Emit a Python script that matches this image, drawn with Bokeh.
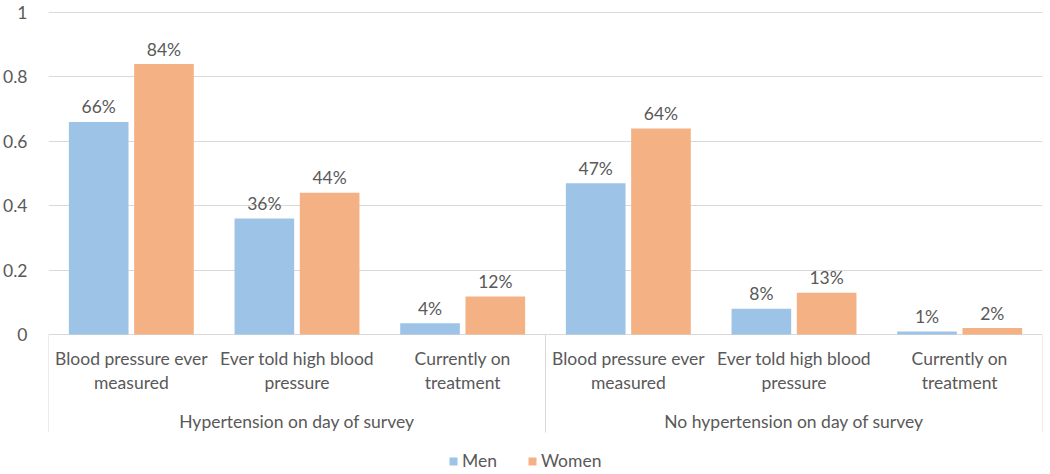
from bokeh.plotting import figure
from bokeh.models import (FactorRange, ColumnDataSource, FixedTicker, CustomJSTickFormatter,
                          Legend, LegendItem, Range1d)
from bokeh.transform import dodge
from bokeh.core.properties import value
from bokeh.embed import file_html
from bokeh.resources import INLINE

# ---- data ----
groups = ["Hypertension on day of survey", "No hypertension on day of survey"]
measures = ["Blood pressure ever\nmeasured", "Ever told high blood\npressure", "Currently on\ntreatment"]
men = [0.66, 0.36, 0.035, 0.47, 0.08, 0.009]
women = [0.84, 0.44, 0.118, 0.64, 0.13, 0.02]
men_labels = ["66%", "36%", "4%", "47%", "8%", "1%"]
women_labels = ["84%", "44%", "12%", "64%", "13%", "2%"]
y_ticks = [0, 0.2, 0.4, 0.6, 0.8, 1]

FONT = "Lato"
FS = "17.5px"
TXT = "#595959"
GRID = "#D9D9D9"
BLUE = "#9DC3E6"
ORANGE = "#F4B183"

W, H = 1050, 474
PX_PER_UNIT = 322
ZERO_Y = 334

factors = [(g, m) for g in groups for m in measures]
line1 = [m.split("\n")[0] for g in groups for m in measures]
line2 = [m.split("\n")[1] for g in groups for m in measures]

src = ColumnDataSource(dict(x=factors, men=men, women=women,
                            men_lab=men_labels, women_lab=women_labels,
                            l1=line1, l2=line2, zero=[0] * len(factors)))

x_range = FactorRange(*factors, group_padding=0, factor_padding=0, range_padding=0)
y_range = Range1d((ZERO_Y - H) / PX_PER_UNIT, ZERO_Y / PX_PER_UNIT)

p = figure(width=W, height=H, x_range=x_range, y_range=y_range,
           output_backend="svg", toolbar_location=None,
           x_axis_location=None, min_border_left=48, min_border_right=8,
           min_border_top=0, min_border_bottom=0)
p.outline_line_color = None
p.background_fill_color = "white"
p.xgrid.grid_line_color = None
p.ygrid.grid_line_color = GRID
p.ygrid.grid_line_width = 1

ax = p.yaxis[0]
ax.ticker = FixedTicker(ticks=y_ticks)
ax.formatter = CustomJSTickFormatter(code="return tick.toString();")
ax.axis_line_color = None
ax.major_tick_line_color = None
ax.minor_tick_line_color = None
ax.major_label_text_font = FONT
ax.major_label_text_font_size = FS
ax.major_label_text_color = TXT
ax.major_label_standoff = 15

bw = 0.36
off = 0.197
r_men = p.vbar(x=dodge("x", -off, range=x_range), top="men", width=bw, source=src,
               fill_color=BLUE, line_color=None)
r_women = p.vbar(x=dodge("x", off, range=x_range), top="women", width=bw, source=src,
                 fill_color=ORANGE, line_color=None)

common = dict(text_font=value(FONT), text_font_size=FS, text_color=TXT, text_align="center")
p.text(x=dodge("x", -off, range=x_range), y="men", text="men_lab", source=src,
       text_baseline="alphabetic", y_offset=-15, **common)
p.text(x=dodge("x", off, range=x_range), y="women", text="women_lab", source=src,
       text_baseline="alphabetic", y_offset=-15, **common)

# category labels
p.text(x="x", y="zero", text="l1", source=src, text_baseline="middle", y_offset=24, **common)
p.text(x="x", y="zero", text="l2", source=src, text_baseline="middle", y_offset=48, **common)

# group labels
gsrc = ColumnDataSource(dict(x=groups, y=[0] * len(groups), t=groups))
p.text(x="x", y="y", text="t", source=gsrc, text_baseline="middle", y_offset=87, **common)

# group separators
n = len(measures)
bounds = [i * n for i in range(len(groups) + 1)]
p.segment(x0=bounds, x1=bounds, y0=[0] * len(bounds), y1=[-98 / PX_PER_UNIT] * len(bounds),
          line_color=GRID, line_width=1)

legend = Legend(items=[LegendItem(label="Men", renderers=[r_men]),
                       LegendItem(label="Women", renderers=[r_women])],
                orientation="horizontal", location=(400, 3),
                border_line_color=None, background_fill_alpha=0,
                padding=0, margin=0, spacing=30,
                glyph_width=10, glyph_height=10, label_standoff=4,
                label_text_font=FONT, label_text_font_size=FS,
                label_text_color=TXT)
p.add_layout(legend, "center")

open("out.html", "w").write(file_html(p, INLINE))
